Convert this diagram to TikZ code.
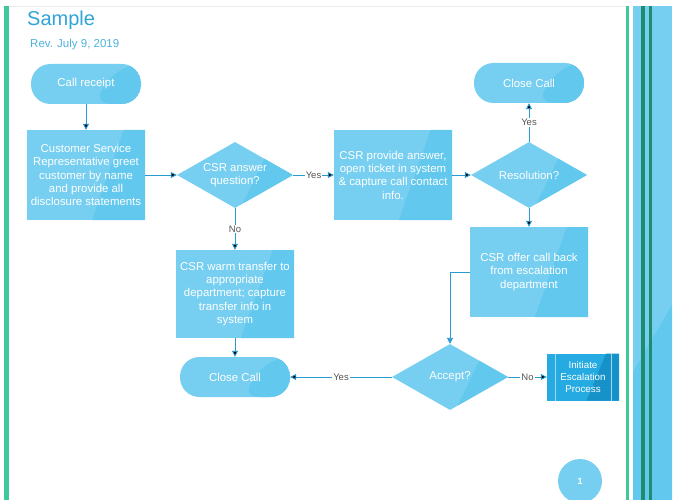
\documentclass[tikz,border=0pt]{standalone}
\usepackage{fontspec}
\setmainfont{Liberation Sans}
\usetikzlibrary{arrows.meta,positioning,shapes.geometric,calc}

\definecolor{boxblue}{HTML}{76CFF0}
\definecolor{boxshade}{HTML}{62C8EE}
\definecolor{lineblue}{HTML}{2A9BD0}
\definecolor{titleblue}{HTML}{2EA5D6}
\definecolor{barteal}{HTML}{3FC79E}
\definecolor{stripeteal}{HTML}{1F8C6F}
\definecolor{escblue}{HTML}{25AAE1}
\definecolor{escshade}{HTML}{1692C9}
\definecolor{labelgray}{HTML}{555555}

\tikzset{
  shade box/.style={path picture={
    \fill[#1] ($(path picture bounding box.north west)!0.82!(path picture bounding box.north east)$)
      -- (path picture bounding box.north east) -- (path picture bounding box.south east)
      -- ($(path picture bounding box.south west)!0.55!(path picture bounding box.south east)$) -- cycle;}},
  flow/.style={fill=boxblue, text=white, align=center,
    font=\fontsize{11.4}{13.3}\selectfont, shade box=boxshade},
  process/.style={flow, rectangle, minimum width=118pt, minimum height=90pt, inner sep=1pt},
  terminal/.style={flow, rectangle, rounded corners=19.5pt, minimum width=110pt, minimum height=40pt},
  decision/.style={flow, diamond, aspect=1.75, minimum width=116pt, minimum height=66pt, inner sep=0pt},
  predef/.style={fill=escblue, text=white, align=center, rectangle,
    font=\fontsize{9.8}{12}\selectfont, minimum width=72pt, minimum height=47pt, inner sep=1pt,
    path picture={
      \fill[escshade] ($(path picture bounding box.north west)!0.82!(path picture bounding box.north east)$)
        -- (path picture bounding box.north east) -- (path picture bounding box.south east)
        -- ($(path picture bounding box.south west)!0.55!(path picture bounding box.south east)$) -- cycle;
      \draw[white!55!escblue, line width=0.7pt]
        ([xshift=8pt]path picture bounding box.north west) -- ([xshift=8pt]path picture bounding box.south west)
        ([xshift=-8pt]path picture bounding box.north east) -- ([xshift=-8pt]path picture bounding box.south east);}},
  connector/.style={draw=lineblue, line width=0.9pt, -{Triangle[length=6pt,width=6pt]}},
  reply/.style={fill=white, text=labelgray, inner sep=1pt, font=\fontsize{9.5}{10}\selectfont},
}

\begin{document}
\begin{tikzpicture}[x=1pt, y=-1pt, node distance=100pt, on grid]
\useasboundingbox (0,0) rectangle (680,500);
% page decoration
\fill[barteal] (4,6) rectangle (9,500);
\draw[black!8, line width=0.8pt] (9,6) -- (626,6);
\fill[barteal] (626,6) rectangle (629,500);
\fill[boxblue] (633,6) rectangle (672,500);
\fill[boxshade] (672,305) -- (672,500) -- (633,500) -- (633,372) -- cycle;
\fill[stripeteal] (641,6) rectangle (645,500);
\fill[stripeteal] (649,6) rectangle (652,500);

\node [anchor=base west, inner sep=0pt, text=titleblue, font=\fontsize{20}{24}\selectfont] (title) at (27,26) {Sample};
\node [anchor=base west, inner sep=0pt, text=titleblue!85, font=\fontsize{11.5}{13}\selectfont] (rev) at (30,48) {Rev. July 9, 2019};

% flow chart
\node [process] (greet) at (86,175) {Customer Service\\Representative greet\\customer by name\\and provide all\\disclosure statements};
\node [terminal] (receipt) [above=91pt of greet] {Call receipt};
\node [decision] (csrq) [right=149pt of greet] {CSR answer\\question?};
\node [process] (answer) [right=158pt of csrq] {CSR provide answer,\\open ticket in system\\\& capture call contact\\info.};
\node [decision] (resol) [right=136pt of answer] {Resolution?};
\node [terminal] (closetop) [above=92pt of resol] {Close Call};
\node [process] (offer) [below=97pt of resol] {CSR offer call back\\from escalation\\department};
\node [process, minimum height=88pt] (transfer) [below=119pt of csrq] {CSR warm transfer to\\appropriate\\department; capture\\transfer info in\\system};
\node [terminal] (closebot) [below=83pt of transfer] {Close Call};
\node [decision] (accept) [right=215pt of closebot] {Accept?};
\node [predef] (escal) [right=133pt of accept] {Initiate\\Escalation\\Process};

\node [circle, fill=boxblue, text=white, minimum size=44pt, font=\fontsize{9}{10}\selectfont\bfseries] (page) at (580,481) {1};

\path [connector]
(receipt) edge (greet)
(greet) edge (csrq)
(csrq) edge node [reply] {Yes} (answer)
       edge node [reply] {No} (transfer)
(answer) edge (resol)
(resol) edge node [reply] {Yes} (closetop)
        edge (offer)
(transfer) edge (closebot)
(accept) edge node [reply] {Yes} (closebot)
         edge node [reply] {No} (escal);
\draw [connector] (offer.west) -| (accept.north);

\end{tikzpicture}
\end{document}
